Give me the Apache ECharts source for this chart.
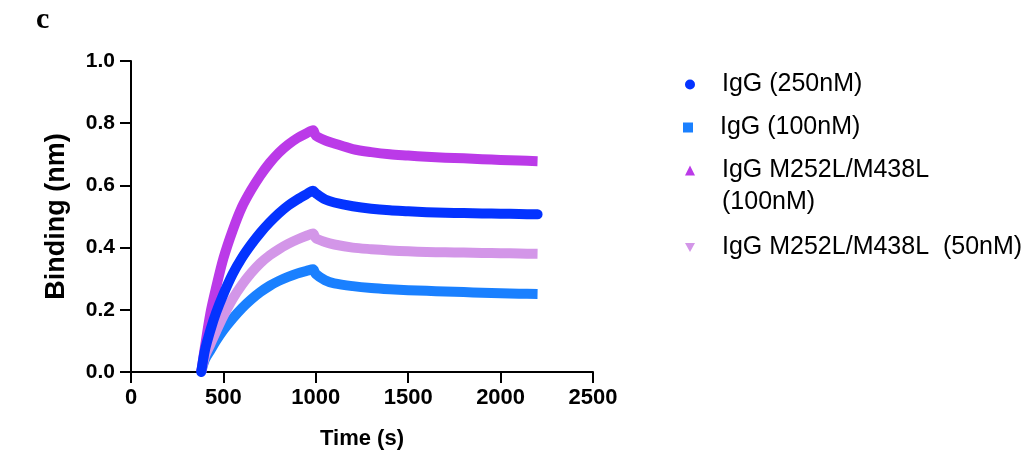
<!DOCTYPE html>
<html>
<head>
<meta charset="utf-8">
<script src="https://cdn.jsdelivr.net/npm/echarts@6/dist/echarts.min.js"></script>
<style>
html,body{margin:0;padding:0;background:#fff;}
#chart{width:1025px;height:455px;}
</style>
</head>
<body>
<div id="chart"></div>
<script>
const timeS = [380, 400, 430, 460, 500, 550, 600, 650, 700, 750, 800, 850, 900, 950, 985,
  1000, 1050, 1100, 1200, 1300, 1400, 1500, 1600, 1700, 1800, 1900, 2000, 2100, 2200];

const igG250 = [0, 0.07, 0.135, 0.19, 0.25, 0.315, 0.367, 0.41, 0.448, 0.481, 0.51, 0.535, 0.555, 0.572, 0.583,
  0.575, 0.555, 0.545, 0.533, 0.525, 0.52, 0.517, 0.514, 0.512, 0.511, 0.51, 0.509, 0.508, 0.507];

const igG100 = [0, 0.04, 0.07, 0.10, 0.135, 0.172, 0.205, 0.233, 0.257, 0.277, 0.293, 0.306, 0.317, 0.325, 0.33,
  0.315, 0.295, 0.285, 0.276, 0.27, 0.266, 0.263, 0.261, 0.259, 0.257, 0.255, 0.253, 0.252, 0.251];

const mut100 = [0, 0.08, 0.19, 0.27, 0.365, 0.455, 0.53, 0.585, 0.632, 0.672, 0.705, 0.731, 0.752, 0.768, 0.777,
  0.76, 0.745, 0.735, 0.717, 0.707, 0.70, 0.696, 0.692, 0.689, 0.687, 0.684, 0.682, 0.68, 0.678];

const mut50 = [0, 0.05, 0.09, 0.13, 0.18, 0.235, 0.28, 0.318, 0.35, 0.375, 0.395, 0.412, 0.426, 0.438, 0.445,
  0.43, 0.418, 0.41, 0.40, 0.395, 0.391, 0.388, 0.386, 0.385, 0.384, 0.383, 0.382, 0.381, 0.38];

const seriesNames = ['IgG (250nM)', 'IgG (100nM)', 'IgG M252L/M438L (100nM)', 'IgG M252L/M438L  (50nM)'];
const xTicks = [0, 500, 1000, 1500, 2000, 2500];
const yTicks = [0, 0.2, 0.4, 0.6, 0.8, 1.0];

const colors = {
  igG250: '#0433FF',
  igG100: '#1A80FF',
  mut100: '#BB3AE8',
  mut50: '#D396E8'
};

function pairs(vals){ return timeS.map((t,i)=>[t, vals[i]]); }

const FONT = 'Liberation Sans, Arial, sans-serif';
const chart = echarts.init(document.getElementById('chart'));
const legendText = {fontFamily:FONT, fontSize:25, color:'#000'};
function mkLegend(name, icon, top, left, extra){
  return Object.assign({
    data:[{name:name, icon:icon}],
    orient:'vertical', left:left, top:top,
    itemWidth:10, itemHeight:10, selectedMode:false,
    textStyle:Object.assign({}, legendText, {padding:[0,0,0,22]})
  }, extra || {});
}
function mkSeries(name, vals, color, cap){
  return {
    name:name, type:'line', data:pairs(vals), showSymbol:false, symbol:'none',
    smooth:0.3,
    itemStyle:{color:color},
    lineStyle:{color:color, width:10, cap:cap, join:'round'},
    emphasis:{disabled:true}, silent:true
  };
}

chart.setOption({
  animation:false,
  backgroundColor:'#fff',
  grid:{left:131, right:432, top:61, bottom:82, containLabel:false},
  xAxis:{
    type:'value', min:xTicks[0], max:xTicks[xTicks.length-1], interval:500,
    name:'Time (s)', nameLocation:'middle', nameGap:56,
    nameTextStyle:{fontFamily:FONT, fontWeight:'bold', fontSize:22, color:'#000'},
    axisLine:{lineStyle:{color:'#000', width:2}},
    axisTick:{show:true, length:11, lineStyle:{color:'#000', width:2}},
    axisLabel:{color:'#000', fontWeight:'bold', fontSize:22, fontFamily:FONT, margin:15,
      formatter:v=>String(v)},
    splitLine:{show:false}
  },
  yAxis:{
    type:'value', min:yTicks[0], max:yTicks[yTicks.length-1], interval:0.2,
    name:'Binding (nm)', nameLocation:'middle', nameGap:61,
    nameTextStyle:{fontFamily:FONT, fontWeight:'bold', fontSize:27, color:'#000'},
    axisLine:{show:true, lineStyle:{color:'#000', width:2}},
    axisTick:{show:true, length:11, lineStyle:{color:'#000', width:2}},
    axisLabel:{color:'#000', fontWeight:'bold', fontSize:21, fontFamily:FONT, margin:16,
      formatter:v=>v.toFixed(1)},
    splitLine:{show:false}
  },
  legend:[
    mkLegend(seriesNames[0], 'circle', 67, 680),
    mkLegend(seriesNames[1], 'rect', 110, 678),
    mkLegend(seriesNames[2], 'triangle', 121, 680, {
      formatter:()=>'{e| }\n{a|IgG M252L/M438L}\n{a|(100nM)}',
      textStyle:Object.assign({}, legendText, {padding:[0,0,0,22], rich:{
        e:{fontSize:25, lineHeight:32, fontFamily:FONT},
        a:{fontSize:25, lineHeight:32, fontFamily:FONT, color:'#000'}
      }})
    }),
    mkLegend(seriesNames[3], 'path://M0,0L10,0L5,9Z', 230, 680)
  ],
  graphic:[{type:'text', left:36, top:5, style:{text:'c', font:'bold 30px "Liberation Serif", serif', fill:'#000'}}],
  series:[
    mkSeries(seriesNames[1], igG100, colors.igG100, 'butt'),
    mkSeries(seriesNames[3], mut50, colors.mut50, 'butt'),
    mkSeries(seriesNames[2], mut100, colors.mut100, 'butt'),
    mkSeries(seriesNames[0], igG250, colors.igG250, 'round')
  ]
});
</script>
</body>
</html>
